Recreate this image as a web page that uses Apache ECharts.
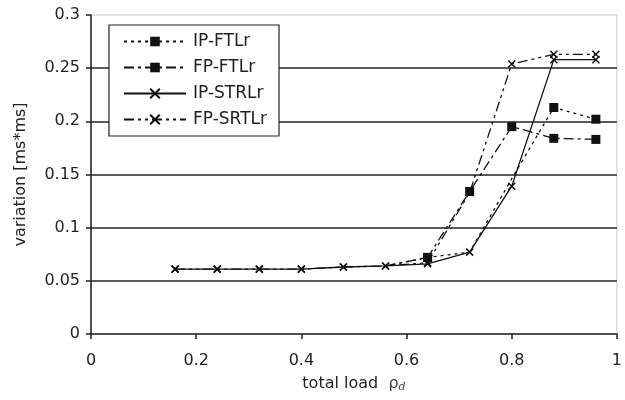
<!DOCTYPE html>
<html>
<head>
<meta charset="utf-8">
<script src="https://cdn.jsdelivr.net/npm/echarts@6/dist/echarts.min.js"></script>
<style>
  html, body { margin: 0; padding: 0; background: #fff; }
  #chart { width: 625px; height: 400px; }
</style>
</head>
<body>
<div id="chart"></div>
<script>
// total load values (x)
const load = [0.16, 0.24, 0.32, 0.40, 0.48, 0.56, 0.64, 0.72, 0.80, 0.88, 0.96];

// variation [ms*ms] per series, null = no point
const ipFtl  = [null, null, null, null, null, 0.064, 0.072, 0.077, 0.146, 0.213, 0.202];
const fpFtl  = [null, null, null, null, null, 0.064, 0.072, 0.134, 0.195, 0.184, 0.183];
const ipStrl = [0.061, 0.061, 0.061, 0.061, 0.063, 0.064, 0.066, 0.077, 0.139, 0.258, 0.258];
const fpSrtl = [0.061, 0.061, 0.061, 0.061, 0.063, 0.064, 0.067, 0.133, 0.254, 0.263, 0.263];

const seriesNames = ['IP-FTLr', 'FP-FTLr', 'IP-STRLr', 'FP-SRTLr'];

// points drawn without a marker in the original
const noMarker = {
    'IP-FTLr': [0.56, 0.72, 0.80],
    'FP-FTLr': [0.56]
};

const xTicks = [0, 0.2, 0.4, 0.6, 0.8, 1];

const ink = '#111';
const font = 'DejaVu Sans';
const crossPath = 'path://M0,0L10,10M10,0L0,10';

function pairs(ys) {
    return load.map((x, i) => [x, ys[i]]).filter(p => p[1] !== null);
}

function makeSeries(name, ys, dash, symbol, size) {
    const hidden = noMarker[name] || [];
    const isCross = symbol === crossPath;
    return {
        name: name,
        type: 'line',
        data: pairs(ys),
        symbol: symbol,
        symbolSize: (v) => hidden.includes(v[0]) ? 0 : size,
        showAllSymbol: true,
        lineStyle: { color: ink, width: 1.3, type: dash },
        itemStyle: {
            color: isCross ? 'transparent' : ink,
            borderColor: ink,
            borderWidth: isCross ? 1.5 : 0
        },
        emphasis: { disabled: true },
        animation: false
    };
}

const chart = echarts.init(document.getElementById('chart'), null, { renderer: 'canvas' });

chart.setOption({
    backgroundColor: '#fff',
    textStyle: { fontFamily: font },
    grid: {
        left: 91, right: 1, top: 15, bottom: 66,
        show: true, borderColor: '#c8c8c8', borderWidth: 1
    },
    legend: {
        orient: 'vertical',
        left: 109, top: 25,
        data: seriesNames,
        itemWidth: 62, itemHeight: 12, itemGap: 9,
        padding: [8, 12, 8, 14],
        borderColor: '#222', borderWidth: 1.2, backgroundColor: '#fff',
        textStyle: { fontSize: 17, color: '#222', fontFamily: font, padding: [0, 0, 0, 2] }
    },
    xAxis: {
        type: 'value', min: 0, max: 1, interval: 0.2,
        name: '{a|total load  }{b|ρ}{c|d}',
        nameLocation: 'middle', nameGap: 40,
        nameTextStyle: {
            rich: {
                a: { fontSize: 16, color: '#222', fontFamily: font },
                b: { fontSize: 16, color: '#444', fontFamily: font },
                c: { fontSize: 11, color: '#444', fontStyle: 'italic', fontFamily: 'DejaVu Serif', padding: [8, 0, 0, 0] }
            }
        },
        axisLine: { lineStyle: { color: '#222', width: 1.5 } },
        axisTick: { show: true, inside: false, length: 5, lineStyle: { color: '#222', width: 1.5 } },
        axisLabel: {
            fontSize: 16, color: '#222', margin: 19,
            customValues: xTicks,
            formatter: v => String(v)
        },
        splitLine: { show: false }
    },
    yAxis: {
        type: 'value', min: 0, max: 0.3, interval: 0.05,
        name: 'variation [ms*ms]',
        nameLocation: 'middle', nameGap: 62,
        nameTextStyle: { fontSize: 16, color: '#222', fontFamily: font },
        axisLine: { show: true, lineStyle: { color: '#222', width: 1.5 } },
        axisTick: { show: true, inside: false, length: 5, lineStyle: { color: '#222', width: 1.5 } },
        axisLabel: {
            fontSize: 16, color: '#222', margin: 11,
            formatter: v => String(+v.toFixed(2))
        },
        splitLine: { show: true, showMinLine: false, showMaxLine: false, lineStyle: { color: '#222', width: 1.5 } }
    },
    series: [
        makeSeries('IP-FTLr', ipFtl, [3, 4], 'rect', 9),
        makeSeries('FP-FTLr', fpFtl, [10, 4, 3, 4], 'rect', 9),
        makeSeries('IP-STRLr', ipStrl, 'solid', crossPath, 7),
        makeSeries('FP-SRTLr', fpSrtl, [10, 4, 3, 4, 3, 4], crossPath, 7)
    ]
});
</script>
</body>
</html>
